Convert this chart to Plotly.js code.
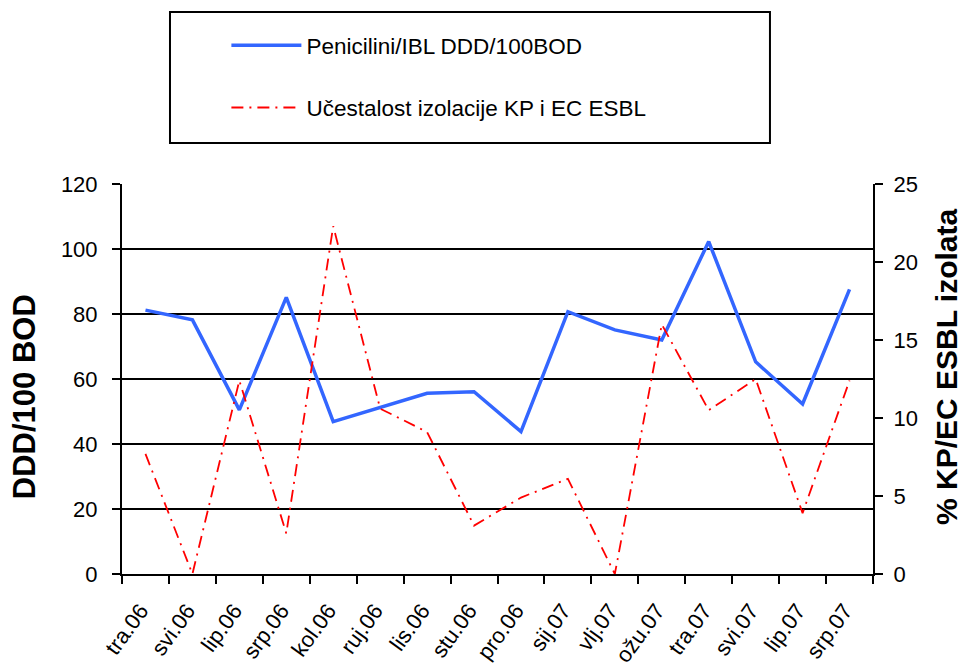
<!DOCTYPE html>
<html>
<head>
<meta charset="utf-8">
<script src="https://cdn.plot.ly/plotly-3.0.1.min.js"></script>
<style>html,body{margin:0;padding:0;background:#fff;}#chart{width:965px;height:666px;}</style>
</head>
<body>
<div id="chart"></div>
<script>
const months = ["tra.06","svi.06","lip.06","srp.06","kol.06","ruj.06","lis.06","stu.06","pro.06","sij.07","vlj.07","ožu.07","tra.07","svi.07","lip.07","srp.07"];
const dddValues = [81.2, 78.2, 50.5, 85.1, 46.9, 51.3, 55.6, 56.1, 43.8, 80.7, 75.1, 72.0, 102.3, 65.3, 52.3, 87.6];
const esblValues = [7.7, 0.0, 12.4, 2.6, 22.3, 10.6, 9.1, 3.1, 4.9, 6.1, 0.0, 16.0, 10.5, 12.5, 3.9, 12.4];
const seriesNames = ["Penicilini/IBL DDD/100BOD", "Učestalost izolacije KP i EC ESBL"];
const axisTitles = ["DDD/100 BOD", "% KP/EC ESBL izolata"];

const FONT = "Arial, 'Liberation Sans', sans-serif";

const traces = [
  {
    x: months, y: dddValues, name: seriesNames[0], type: "scatter", mode: "lines",
    line: {color: "#3366FF", width: 3.5}, yaxis: "y", legendgroup: "a"
  },
  {
    x: months, y: esblValues, name: seriesNames[1], type: "scatter", mode: "lines",
    line: {color: "#FF0000", width: 1.8, dash: "12px,6px,2px,6px"}, yaxis: "y2", legendgroup: "b"
  }
];

const layout = {
  width: 965, height: 666,
  margin: {l: 122, r: 92, t: 184, b: 92},
  paper_bgcolor: "#fff", plot_bgcolor: "#fff",
  font: {family: FONT, size: 21, color: "#000"},
  showlegend: true,
  legend: {
    x: 0.139, y: 1.41, xanchor: "left", yanchor: "top",
    bgcolor: "rgba(0,0,0,0)", borderwidth: 0,
    font: {family: FONT, size: 22.5, color: "#000"},
    tracegroupgap: 30, itemwidth: 70
  },
  xaxis: {
    type: "category", range: [-0.5, 15.5],
    showline: true, linecolor: "#000", linewidth: 2,
    ticks: "outside", tickson: "boundaries", ticklen: 8, tickwidth: 2, tickcolor: "#000",
    ticklabelstandoff: 13, ticklabelshift: -5,
    tickangle: -54, tickfont: {family: FONT, size: 22, color: "#000"},
    showgrid: false, zeroline: false, fixedrange: true
  },
  yaxis: {
    range: [0, 120], dtick: 20, tick0: 0,
    showline: true, linecolor: "#000", linewidth: 2,
    ticks: "outside", ticklen: 8, tickwidth: 2, tickcolor: "#000",
    ticklabelstandoff: 10,
    showgrid: true, gridcolor: "#000", gridwidth: 1.5,
    zeroline: false,
    tickfont: {family: FONT, size: 22, color: "#000"}
  },
  yaxis2: {
    range: [0, 25], dtick: 5, tick0: 0, overlaying: "y", side: "right",
    showline: true, linecolor: "#000", linewidth: 2,
    ticks: "outside", ticklen: 8, tickwidth: 2, tickcolor: "#000",
    ticklabelstandoff: 6,
    showgrid: false, zeroline: false,
    tickfont: {family: FONT, size: 22, color: "#000"}
  },
  annotations: [
    {text: "<b>" + axisTitles[0] + "</b>", xref: "paper", yref: "paper", x: -0.1305, y: 0.456,
     xanchor: "center", yanchor: "middle", textangle: -90, showarrow: false,
     font: {family: FONT, size: 31, color: "#000"}},
    {text: "<b>" + axisTitles[1] + "</b>", xref: "paper", yref: "paper", x: 1.097, y: 0.533,
     xanchor: "center", yanchor: "middle", textangle: -90, showarrow: false,
     font: {family: FONT, size: 30, color: "#000"}}
  ],
  shapes: [
    {type: "rect", xref: "paper", yref: "paper", x0: 0.0639, x1: 0.8628, y0: 1.105, y1: 1.441,
     line: {color: "#000", width: 2}, fillcolor: "rgba(0,0,0,0)"}
  ]
};

Plotly.newPlot("chart", traces, layout, {displayModeBar: false, staticPlot: true});
</script>
</body>
</html>
